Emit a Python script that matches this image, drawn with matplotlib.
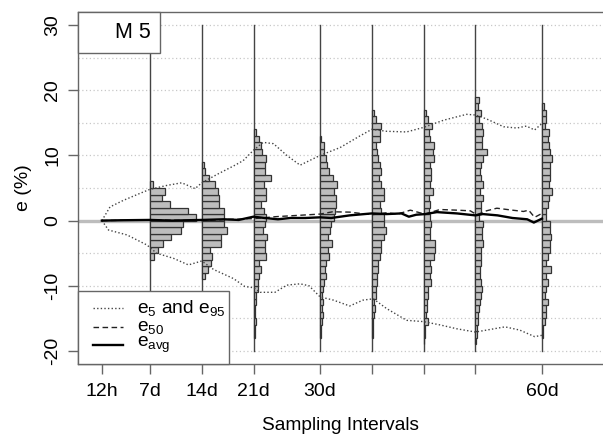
import matplotlib
matplotlib.use("Agg")
import matplotlib.pyplot as plt
from matplotlib.patches import Rectangle
from matplotlib.lines import Line2D
import numpy as np

plt.rcParams['font.family'] = ['Liberation Sans', 'DejaVu Sans']
plt.rcParams['mathtext.fontset'] = 'custom'
plt.rcParams['mathtext.rm'] = 'Liberation Sans'
plt.rcParams['mathtext.it'] = 'Liberation Sans'
plt.rcParams['mathtext.default'] = 'regular'

# ---------------- data ----------------
tick_days = [0.5, 7, 14, 21, 30, 37, 44, 51, 60]
tick_labels = ["12h", "7d", "14d", "21d", "30d", "", "", "", "60d"]
hist_days = [7, 14, 21, 30, 37, 44, 51, 60]

# histogram frequencies (1 % bins) starting at the given lower edge
hist_start = [-6, -9, -18, -18, -18, -19, -19, -18]
hist_7d = [4, 8, 13, 21, 31, 33, 46, 38, 20, 12, 15, 3]
hist_14d = [3, 6, 9, 10, 8, 19, 19, 25, 22, 22, 22, 17, 17, 16, 13, 7, 3, 2]
hist_21d = [1, 1, 2, 1, 1, 2, 2, 4, 4, 5, 7, 5, 12, 11, 11, 13, 9, 11,
            12, 10, 7, 12, 12, 10, 17, 11, 11, 12, 8, 7, 5, 2]
hist_30d = [0.5, 1, 2, 3, 2, 3, 2, 3, 4, 6, 5, 6, 9, 8, 12, 8, 10, 11,
            14, 15, 16, 16, 14, 17, 13, 9, 7, 6, 4, 4, 1]
hist_37d = [1, 1, 1, 2, 3, 2, 4, 4, 5, 5, 6, 6, 8, 9, 9, 12, 14, 12,
            12, 9, 8, 12, 12, 9, 7, 9, 8, 6, 5, 4, 8, 8, 9, 4, 2]
hist_44d = [0.5, 1, 1, 4, 2, 3, 3, 4, 4, 7, 6, 7, 6, 10, 11, 11, 6, 6, 7,
            6, 5, 6, 5, 9, 6, 7, 7, 6, 10, 9, 10, 6, 5, 8, 4, 2]
hist_51d = [1, 2, 2, 3, 3, 4, 5, 6, 7, 6, 5, 5, 6, 6, 6, 8, 7, 7, 8,
            4, 6, 6, 8, 5, 8, 6, 5, 6, 8, 12, 7, 7, 8, 7, 4, 6, 3, 4]
hist_60d = [1, 1, 3, 4, 4, 6, 3, 4, 6, 4, 9, 4, 6, 8, 8, 9, 8, 8,
            4, 4, 6, 7, 10, 7, 8, 8, 8, 10, 8, 7, 6, 7, 3, 4, 4, 2]
hists = [hist_7d, hist_14d, hist_21d, hist_30d, hist_37d, hist_44d, hist_51d, hist_60d]

e95_day = [0.5, 1.6, 3.4, 5.7, 7.0, 9.3, 11.3, 13.1, 14.0, 16.1, 18.5, 19.6, 21.0,
           22.3, 23.7, 25.5, 27.3, 30.0, 32.7, 35.4, 37.0, 39.0, 41.7, 44.0, 46.7,
           49.8, 51.0, 52.5, 54.8, 56.6, 57.9, 59.0, 60.0]
e95_val = [0.0, 2.1, 3.1, 4.2, 4.8, 5.4, 5.8, 4.9, 5.8, 7.1, 8.5, 9.2, 10.8,
           12.0, 11.8, 10.0, 8.5, 10.0, 11.2, 13.0, 14.0, 13.7, 13.6, 14.3, 15.4,
           16.3, 16.2, 15.6, 14.4, 14.2, 14.5, 13.9, 14.9]
e5_day = [0.5, 1.4, 3.9, 6.6, 7.9, 10.2, 12.2, 14.0, 15.6, 18.3, 19.8, 21.0, 21.9,
          23.9, 25.5, 27.3, 28.5, 30.0, 31.8, 34.0, 35.8, 37.2, 39.0, 41.7, 44.0,
          46.2, 48.5, 51.0, 52.5, 55.0, 57.0, 59.0, 60.0]
e5_val = [0.0, -1.45, -2.2, -3.75, -5.0, -5.8, -6.8, -6.2, -7.5, -8.9, -10.1, -10.3, -11.0,
          -11.0, -9.9, -9.7, -10.0, -11.7, -12.2, -13.1, -12.2, -12.0, -13.5, -15.3, -15.5,
          -16.0, -16.6, -17.1, -16.8, -16.3, -16.8, -17.8, -17.6]
e50_day = [0.5, 7, 14, 18, 21, 24, 27, 30, 31.7, 34, 37, 39, 40.5, 42.2, 43.5, 44.2,
           46.2, 48.5, 50.3, 51.2, 52.5, 53.9, 56, 57.5, 58.2, 59, 60]
e50_val = [0.0, 0.1, 0.0, 0.2, 0.3, 0.6, 0.8, 1.0, 1.35, 1.3, 0.9, 1.2, 1.0, 1.6, 1.2, 1.0,
           1.7, 1.6, 1.5, 0.9, 1.5, 1.9, 1.6, 1.4, 1.6, 0.5, 1.1]
eavg_day = [0.5, 3, 7, 10, 14, 17, 19, 21, 22.5, 24.3, 26, 28, 30, 31.5, 34, 37, 39,
            41, 42, 43, 44.2, 45.8, 48.5, 51, 52, 54, 56, 58, 58.9, 60]
eavg_val = [0.0, 0.05, 0.1, 0.0, 0.1, 0.2, 0.1, 0.6, 0.4, 0.2, 0.4, 0.4, 0.5, 0.4, 0.8,
            1.1, 1.0, 1.1, 0.6, 0.9, 1.0, 1.3, 1.1, 0.8, 1.0, 0.8, 0.4, 0.2, -0.3, 0.3]

# ---------------- figure ----------------
W, H = 603, 436
fig = plt.figure(figsize=(W / 100, H / 100), dpi=100)
def fx(px): return px / W
def fy(py): return 1 - py / H

ax = fig.add_axes([fx(78), fy(364), fx(603) - fx(78), fy(12) - fy(364)])
ax.set_xlim(-2.73, 68.25)
ax.set_ylim(-22, 32)

edge = '#666666'
for s in ['left', 'top', 'bottom']:
    ax.spines[s].set_color(edge)
    ax.spines[s].set_linewidth(1.0)
ax.spines['right'].set_visible(False)

# grid lines
for g in [-20, -15, -10, -5, 5, 10, 15, 20, 25, 30]:
    ax.axhline(g, color='#c8c8c8', lw=0.9, ls=(0, (1, 2)), zorder=0.5)
ax.axhline(0, color='#bdbdbd', lw=2.4, zorder=1)

# vertical lines + histograms
px_per_day = 7.396
for d, start, h in zip(hist_days, hist_start, hists):
    ax.plot([d, d], [-20, 30], color='#444444', lw=1.0, zorder=1.5)
    edges = np.arange(start, start + len(h))
    ax.barh(edges + 0.5, np.array(h) / px_per_day, height=1.0, left=d,
            color='#bdbdbd', edgecolor='#333333', linewidth=0.9, zorder=2)

# lines
ax.plot(e95_day, e95_val, color='#444444', lw=1.0, ls=(0, (1, 1.6)), zorder=3)
ax.plot(e5_day, e5_val, color='#444444', lw=1.0, ls=(0, (1, 1.6)), zorder=3)
ax.plot(e50_day, e50_val, color='#222222', lw=1.0, ls=(0, (4, 2.5)), zorder=3)
ax.plot(eavg_day, eavg_val, color='black', lw=1.7, zorder=3.5)

# ticks
ax.set_xticks(tick_days)
ax.set_xticklabels(tick_labels)
ax.set_yticks([-20, -10, 0, 10, 20, 30])
ax.set_yticklabels(['-20', '-10', '0', '10', '20', '30'], rotation=90, va='center')
ax.tick_params(axis='both', direction='out', length=7, width=1.0, color=edge,
               labelsize=14, labelcolor='black')
ax.tick_params(axis='x', pad=7)
ax.tick_params(axis='y', pad=5)
ax.set_xlabel('Sampling Intervals', fontsize=13.8, labelpad=12)
ax.set_ylabel('e (%)', fontsize=14, labelpad=9)

# "M 5" box
fig.add_artist(Rectangle((fx(78), fy(53)), fx(160) - fx(78), fy(12) - fy(53),
                         transform=fig.transFigure, facecolor='white',
                         edgecolor=edge, lw=1.0, zorder=5))
fig.text(fx(133), fy(33), 'M 5', ha='center', va='center', fontsize=15.5, zorder=6)

# legend box
fig.add_artist(Rectangle((fx(78), fy(364)), fx(229) - fx(78), fy(291) - fy(364),
                         transform=fig.transFigure, facecolor='white',
                         edgecolor=edge, lw=1.0, zorder=5))
leg_rows = [308, 327, 345]
leg_styles = [dict(color='#444444', lw=1.0, ls=(0, (1, 1.6))),
              dict(color='#222222', lw=1.0, ls=(0, (4, 2.5))),
              dict(color='black', lw=1.7, ls='-')]
leg_labels = [r'$e_{5}$ and $e_{95}$', r'$e_{50}$', r'$e_{avg}$']
for py, st, lab in zip(leg_rows, leg_styles, leg_labels):
    fig.add_artist(Line2D([fx(93), fx(123)], [fy(py), fy(py)],
                          transform=fig.transFigure, zorder=6, **st))
    fig.text(fx(137), fy(py), lab, ha='left', va='center', fontsize=13.8, zorder=6)

fig.savefig('out.png', dpi=100)
